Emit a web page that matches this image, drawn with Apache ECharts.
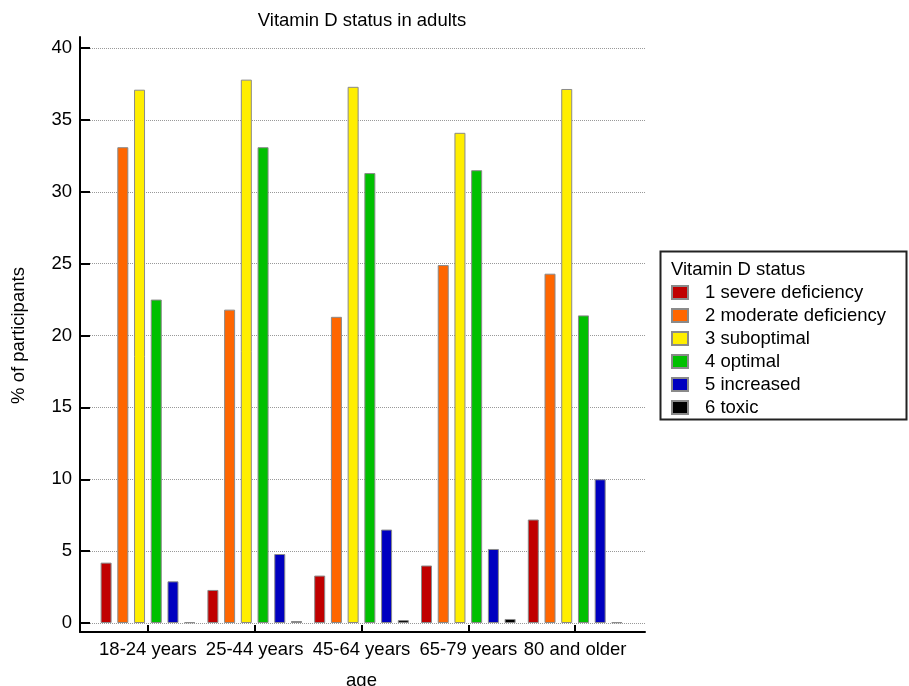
<!DOCTYPE html>
<html>
<head>
<meta charset="utf-8">
<script src="https://cdn.jsdelivr.net/npm/echarts@6/dist/echarts.min.js"></script>
<style>html,body{margin:0;padding:0;background:#fff;}#c{width:909px;height:686px;}</style>
</head>
<body>
<div id="c"></div>
<script>
const categories = ['18-24 years', '25-44 years', '45-64 years', '65-79 years', '80 and older'];
const seriesNames = ['1 severe deficiency', '2 moderate deficiency', '3 suboptimal', '4 optimal', '5 increased', '6 toxic'];
const severe = [4.2, 2.3, 3.3, 4.0, 7.2];
const moderate = [33.1, 21.8, 21.3, 24.9, 24.3];
const suboptimal = [37.1, 37.8, 37.3, 34.1, 37.15];
const optimal = [22.5, 33.1, 31.3, 31.5, 21.4];
const increased = [2.9, 4.8, 6.5, 5.15, 10.0];
const toxic = [0.05, 0.14, 0.2, 0.28, 0.05];
const yTicks = [0, 5, 10, 15, 20, 25, 30, 35, 40];
const colors = ['#C00000', '#FF6600', '#FFEE00', '#00C000', '#0000C0', '#000000'];
const values = [severe, moderate, suboptimal, optimal, increased, toxic];

const FONT = '"Liberation Sans", Arial, sans-serif';
const FS = 18.5;
// zero line at y=623, x-axis line at y=632, 40 at y=48 -> 575px per 40 units
const yMin = 0, yMax = 40;
const barAxisMin = -9 * (yMax - yMin) / 575;
const chart = echarts.init(document.getElementById('c'));
chart.setOption({
  animation: false,
  backgroundColor: '#fff',
  textStyle: { fontFamily: FONT },
  title: {
    text: 'Vitamin D status in adults',
    left: 362, top: 11, textAlign: 'center', padding: 0,
    textStyle: { fontFamily: FONT, fontSize: FS, fontWeight: 'normal', color: '#000' }
  },
  grid: [
    { left: 80, right: 264, top: 37, bottom: 54, outerBoundsMode: 'none', containLabel: false },
    { left: 80, right: 264, top: 48, bottom: 63, outerBoundsMode: 'none', containLabel: false },
    { left: 94.5, width: 534, top: 48, bottom: 54, outerBoundsMode: 'none', containLabel: false }
  ],
  xAxis: [
    { gridIndex: 0, type: 'value', min: 0, max: 1, axisLine: { show: true, onZero: false, lineStyle: { color: '#000', width: 2 } },
      axisTick: { show: false }, axisLabel: { show: false }, splitLine: { show: false } },
    { gridIndex: 1, type: 'value', min: 0, max: 1, show: false },
    { gridIndex: 2, type: 'category', data: categories, position: 'bottom',
      axisLine: { show: false, onZero: false },
      axisTick: { show: true, alignWithLabel: true, inside: true, length: 7, lineStyle: { color: '#000', width: 2 } },
      axisLabel: { fontFamily: FONT, fontSize: FS, color: '#000', margin: 8, interval: 0, hideOverlap: false },
      name: 'age', nameLocation: 'middle', nameGap: 39,
      nameTextStyle: { fontFamily: FONT, fontSize: FS, color: '#000' } }
  ],
  yAxis: [
    { gridIndex: 0, type: 'value', min: 0, max: 1, position: 'left', axisLine: { show: true, onZero: false, lineStyle: { color: '#000', width: 2 } },
      axisTick: { show: false }, axisLabel: { show: false }, splitLine: { show: false } },
    { gridIndex: 1, type: 'value', position: 'left', min: yTicks[0], max: yTicks[yTicks.length - 1], interval: 5,
      axisLine: { show: false },
      axisTick: { show: true, inside: true, length: 10, lineStyle: { color: '#000', width: 2 } },
      axisLabel: { fontFamily: FONT, fontSize: FS, color: '#000', margin: 8 },
      splitLine: { show: true, lineStyle: { color: '#999', type: 'dotted', width: 1 } },
      name: '% of participants', nameLocation: 'middle', nameGap: 52, nameRotate: 90,
      nameTextStyle: { fontFamily: FONT, fontSize: FS, color: '#000' } },
    { gridIndex: 2, type: 'value', min: barAxisMin, max: yMax, show: false }
  ],
  legend: {
    orient: 'vertical', left: 671, top: 283, padding: 0,
    itemWidth: 16, itemHeight: 13, itemGap: 4, icon: 'rect',
    textStyle: { fontFamily: FONT, fontSize: FS, color: '#000', lineHeight: 18, padding: [0, 0, 0, 12] },
    data: seriesNames
  },
  graphic: [
    { type: 'rect', shape: { x: 660.5, y: 251.5, width: 246, height: 168 },
      style: { fill: 'none', stroke: '#222', lineWidth: 2 }, z: 100 },
    { type: 'text', x: 671, y: 260,
      style: { text: 'Vitamin D status', font: FS + 'px ' + FONT, fill: '#000' }, z: 100 }
  ],
  series: seriesNames.map((n, i) => ({
    name: n, type: 'bar', xAxisIndex: 2, yAxisIndex: 2,
    data: values[i], barWidth: 11, barGap: '52%',
    itemStyle: { color: colors[i], borderColor: '#8a8a8a', borderWidth: 1 }
  }))
});
</script>
</body>
</html>
